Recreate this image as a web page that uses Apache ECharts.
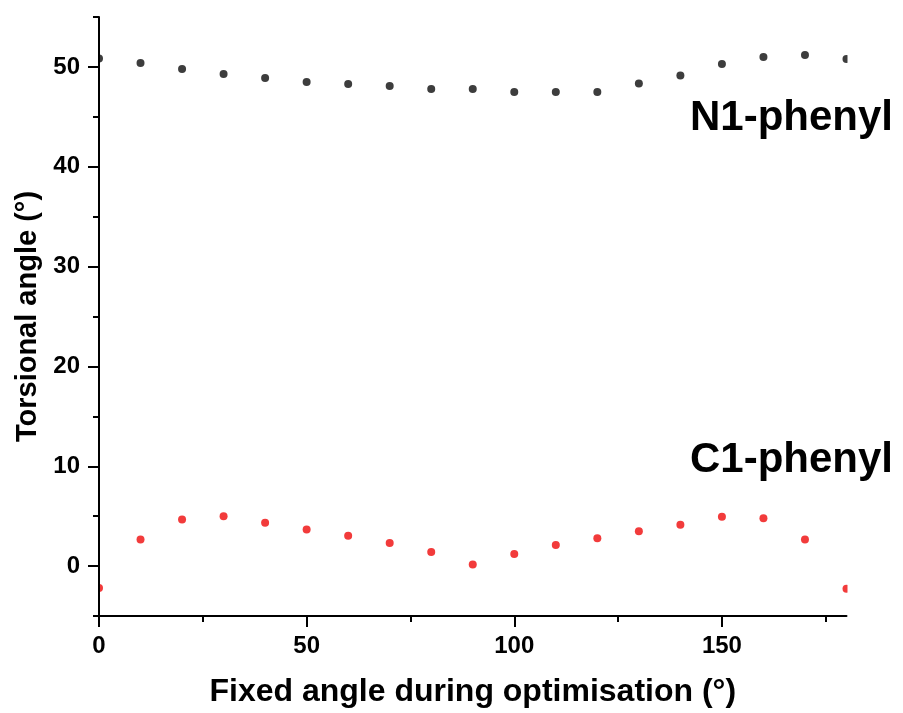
<!DOCTYPE html>
<html>
<head>
<meta charset="utf-8">
<script src="https://cdn.jsdelivr.net/npm/echarts@6.0.0/dist/echarts.min.js"></script>
<style>
 html, body { margin: 0; padding: 0; background: #fff; }
 #chart { width: 903px; height: 713px; }
</style>
</head>
<body>
<div id="chart"></div>
<script type="text/javascript">
	// fixed angle (x) and torsional angle of the two rings
	var angles = [0, 10, 20, 30, 40, 50, 60, 70, 80, 90, 100, 110, 120, 130, 140, 150, 160, 170, 180];
	var n1Phenyl = [50.85, 50.4, 49.8, 49.3, 48.9, 48.5, 48.3, 48.1, 47.8, 47.8, 47.5, 47.5, 47.5, 48.35, 49.15, 50.3, 51.0, 51.2, 50.8];
	var c1Phenyl = [-2.2, 2.66, 4.66, 5.0, 4.33, 3.66, 3.03, 2.3, 1.4, 0.15, 1.2, 2.1, 2.8, 3.5, 4.15, 4.93, 4.8, 2.66, -2.27];

	var xMajor = [0, 50, 100, 150];
	var xMinor = [25, 75, 125, 175];
	var yMajor = [0, 10, 20, 30, 40, 50];
	var yMinor = [-5, 5, 15, 25, 35, 45, 55];

	function pairs(xs, ys) {
		var out = [];
		for (var i = 0; i < xs.length; i++) out.push([xs[i], ys[i]]);
		return out;
	}

	var font = "'Liberation Sans', Arial, sans-serif";
	var black = '#000';

	var options = {
		animation: false,
		grid: { left: 99, top: 17, width: 747.5, height: 600 },
		xAxis: [{
			type: 'value', min: 0, max: 180, z: 10,
			name: 'Fixed angle during optimisation (°)',
			nameLocation: 'middle', nameGap: 60,
			nameTextStyle: { fontFamily: font, fontWeight: 'bold', fontSize: 32, color: black },
			axisLine: { show: true, onZero: false, lineStyle: { color: black, width: 2 } },
			axisTick: { show: true, length: 11, lineStyle: { color: black, width: 2 }, customValues: xMajor },
			axisLabel: { fontFamily: font, fontWeight: 'bold', fontSize: 24, color: black, margin: 18, customValues: xMajor },
			splitLine: { show: false }
		}, {
			type: 'value', min: 0, max: 180, z: 10, position: 'bottom',
			axisLine: { show: false, onZero: false },
			axisTick: { show: true, length: 6, lineStyle: { color: black, width: 2 }, customValues: xMinor },
			axisLabel: { show: false },
			splitLine: { show: false }
		}],
		yAxis: [{
			type: 'value', min: -5, max: 55, z: 10,
			name: 'Torsional angle (°)',
			nameLocation: 'middle', nameGap: 57,
			nameTextStyle: { fontFamily: font, fontWeight: 'bold', fontSize: 29, color: black },
			axisLine: { show: true, onZero: false, lineStyle: { color: black, width: 2 } },
			axisTick: { show: true, length: 11, lineStyle: { color: black, width: 2 }, customValues: yMajor },
			axisLabel: { fontFamily: font, fontWeight: 'bold', fontSize: 24, color: black, margin: 19, customValues: yMajor },
			splitLine: { show: false }
		}, {
			type: 'value', min: -5, max: 55, z: 10, position: 'left',
			axisLine: { show: false, onZero: false },
			axisTick: { show: true, length: 6, lineStyle: { color: black, width: 2 }, customValues: yMinor },
			axisLabel: { show: false },
			splitLine: { show: false }
		}],
		series: [{
			name: 'N1-phenyl', type: 'scatter', symbol: 'circle', symbolSize: 8,
			itemStyle: { color: '#3d3d3d', opacity: 1 },
			data: pairs(angles, n1Phenyl)
		}, {
			name: 'C1-phenyl', type: 'scatter', symbol: 'circle', symbolSize: 8,
			itemStyle: { color: '#f23b3b', opacity: 1 },
			data: pairs(angles, c1Phenyl)
		}],
		graphic: [
			// hide the halves of the end points that fall outside the frame
			{ type: 'rect', z: 5, shape: { x: 85, y: 10, width: 13, height: 600 }, style: { fill: '#fff' } },
			{ type: 'rect', z: 5, shape: { x: 847.5, y: 10, width: 12, height: 600 }, style: { fill: '#fff' } },
			{ type: 'text', z: 20, style: { text: 'N1-phenyl', x: 893, y: 118, align: 'right', verticalAlign: 'middle',
				font: 'bold 42px ' + font, fill: black } },
			{ type: 'text', z: 20, style: { text: 'C1-phenyl', x: 893, y: 460, align: 'right', verticalAlign: 'middle',
				font: 'bold 42px ' + font, fill: black } }
		]
	};

	var myChart = echarts.init(document.getElementById('chart'));
	myChart.setOption(options);
</script>
</body>
</html>
